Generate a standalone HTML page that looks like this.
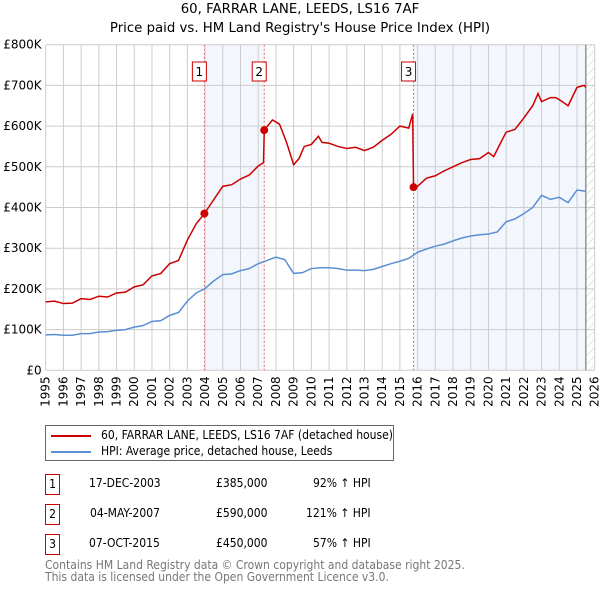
<!DOCTYPE html>
<html><head><meta charset="utf-8"><style>
body{margin:0;background:#fff;font-family:"DejaVu Sans","Liberation Sans",sans-serif;}
#wrap{position:relative;width:600px;height:590px;overflow:hidden;}
.tx{position:absolute;font-size:12px;color:#000;white-space:nowrap;font-family:"DejaVu Sans Condensed","DejaVu Sans",sans-serif;font-stretch:condensed;line-height:13px;}
.box{position:absolute;width:13px;height:19px;border:1px solid #c00;font-size:12px;text-align:center;line-height:19px;font-family:"DejaVu Sans Condensed","DejaVu Sans",sans-serif;}
</style></head><body>
<div id="wrap">
<div style="position:absolute;left:0;width:600px;text-align:center;top:0px;font-size:13.3px;line-height:19px;white-space:nowrap;">60, FARRAR LANE, LEEDS, LS16 7AF<br>Price paid vs. HM Land Registry's House Price Index (HPI)</div>
<svg id="svg" width="600" height="425" style="position:absolute;left:0;top:0"></svg>
<div style="position:absolute;left:45px;top:425px;width:349px;height:36px;border:1px solid #666;box-sizing:border-box;">
<div style="position:absolute;left:5px;top:3px;width:330px;height:14px;"><div style="position:absolute;left:0;top:6px;width:40px;height:2px;background:#c00"></div><span class="tx" style="left:50px;top:0px;">60, FARRAR LANE, LEEDS, LS16 7AF (detached house)</span></div>
<div style="position:absolute;left:5px;top:19px;width:330px;height:14px;"><div style="position:absolute;left:0;top:6px;width:40px;height:2px;background:#5b8fd4"></div><span class="tx" style="left:50px;top:0px;">HPI: Average price, detached house, Leeds</span></div>
</div>
<div><div class="box" style="left:45px;top:474px;">1</div><span class="tx" style="left:89px;top:477px;">17-DEC-2003</span><span class="tx" style="left:216px;top:477px;">£385,000</span><span class="tx" style="left:313px;top:477px;">92% ↑ HPI</span></div>
<div><div class="box" style="left:45px;top:504px;">2</div><span class="tx" style="left:90px;top:507px;">04-MAY-2007</span><span class="tx" style="left:216px;top:507px;">£590,000</span><span class="tx" style="left:306px;top:507px;">121% ↑ HPI</span></div>
<div><div class="box" style="left:45px;top:534px;">3</div><span class="tx" style="left:89px;top:537px;">07-OCT-2015</span><span class="tx" style="left:216px;top:537px;">£450,000</span><span class="tx" style="left:313px;top:537px;">57% ↑ HPI</span></div>
<div class="tx" style="left:45px;top:560px;color:#777;line-height:11.5px;">Contains HM Land Registry data © Crown copyright and database right 2025.<br>This data is licensed under the Open Government Licence v3.0.</div>
</div>
<script>
const yTicks=[0,100,200,300,400,500,600,700,800];
const yLabels=["£0","£100K","£200K","£300K","£400K","£500K","£600K","£700K","£800K"];
const xYears=[1995,1996,1997,1998,1999,2000,2001,2002,2003,2004,2005,2006,2007,2008,2009,2010,2011,2012,2013,2014,2015,2016,2017,2018,2019,2020,2021,2022,2023,2024,2025,2026];
const saleDates=[2003.96,2007.34,2015.77];
const salePrices=[385,590,450];
const hpiT=[1995,1995.5,1996,1996.5,1997,1997.5,1998,1998.5,1999,1999.5,2000,2000.5,2001,2001.5,2002,2002.5,2003,2003.5,2004,2004.5,2005,2005.5,2006,2006.5,2007,2007.5,2008,2008.5,2009,2009.5,2010,2010.5,2011,2011.5,2012,2012.5,2013,2013.5,2014,2014.5,2015,2015.5,2016,2016.5,2017,2017.5,2018,2018.5,2019,2019.5,2020,2020.5,2021,2021.5,2022,2022.5,2023,2023.5,2024,2024.5,2025,2025.5];
const hpiV=[87,88,86,86,90,90,94,95,98,100,106,110,120,122,135,142,170,190,201,220,235,237,245,250,262,270,278,272,238,240,250,252,252,250,246,246,245,248,255,262,268,275,290,298,305,310,318,325,330,333,335,340,365,372,385,400,430,420,425,412,443,440];
const redT=[1995,1995.5,1996,1996.5,1997,1997.5,1998,1998.5,1999,1999.5,2000,2000.5,2001,2001.5,2002,2002.5,2003,2003.5,2003.96,2004.5,2005,2005.5,2006,2006.5,2007,2007.3,2007.34,2007.8,2008.2,2008.6,2009,2009.3,2009.6,2010,2010.4,2010.6,2011,2011.5,2012,2012.5,2013,2013.5,2014,2014.5,2015,2015.5,2015.72,2015.77,2016,2016.5,2017,2017.5,2018,2018.5,2019,2019.5,2020,2020.3,2020.7,2021,2021.5,2022,2022.5,2022.8,2023,2023.5,2023.8,2024,2024.5,2025,2025.4,2025.5];
const redV=[168,170,164,165,176,174,182,180,190,192,205,210,232,238,262,270,320,360,385,420,452,456,470,480,502,510,590,615,605,560,505,520,550,555,575,560,558,550,545,548,540,548,565,580,600,595,630,450,452,472,478,490,500,510,518,520,535,525,560,585,592,620,650,680,660,670,670,665,650,695,700,695];
const X0=45.7,X1=594.7,Y0=370.3,Y1=44.7;
const xs=t=>X0+(t-1995)/(2026-1995)*(X1-X0);
const ys=v=>Y0-v/800*(Y0-Y1);
const svg=document.getElementById('svg');const NS='http://www.w3.org/2000/svg';
function mk(tag,at){const e=document.createElementNS(NS,tag);for(const k in at)e.setAttribute(k,at[k]);svg.appendChild(e);return e;}
let defs=mk('defs',{});defs.innerHTML='<pattern id="hatch" width="6" height="6" patternUnits="userSpaceOnUse" patternTransform="rotate(45)"><line x1="0" y1="0" x2="0" y2="6" stroke="#ccc" stroke-width="1"/></pattern>';
const endT=2025.5;
let s1=mk('rect',{x:xs(saleDates[0]),y:Y1,width:xs(saleDates[1])-xs(saleDates[0]),height:Y0-Y1,fill:'#eef3fc',opacity:0.7});


let s2=mk('rect',{x:xs(saleDates[2]),y:Y1,width:xs(endT)-xs(saleDates[2]),height:Y0-Y1,fill:'#eef3fc',opacity:0.7});


let h=mk('rect',{x:xs(endT),y:Y1,width:X1-xs(endT),height:Y0-Y1,fill:'url(#hatch)'});


xYears.forEach(y=>{let l=mk('line',{x1:xs(y),x2:xs(y),y1:Y1,y2:Y0,stroke:'#ccc','stroke-width':1});


let t=mk('text',{x:0,y:0,transform:`translate(${xs(y)+4},${Y0+6}) rotate(-90)`,'text-anchor':'end','font-size':12,'font-family':'DejaVu Sans, sans-serif'});t.textContent=y;

});
yTicks.forEach((v,i)=>{let l=mk('line',{x1:X0,x2:X1,y1:ys(v),y2:ys(v),stroke:'#ccc','stroke-width':1});


let t=mk('text',{x:X0-4,y:ys(v)+4,'text-anchor':'end','font-size':12,'font-family':'DejaVu Sans, sans-serif'});t.textContent=yLabels[i];

});
let ev=mk('line',{x1:xs(endT),x2:xs(endT),y1:Y1,y2:Y0,stroke:'#666','stroke-width':1});


saleDates.forEach((d,i)=>{let l=mk('line',{x1:xs(d),x2:xs(d),y1:Y1,y2:Y0,stroke:'#e66','stroke-width':1,'stroke-dasharray':'2,2'});


let r=mk('rect',{x:xs(d)-12,y:62,width:14,height:19,fill:'#fff',stroke:'#c00','stroke-width':1});


let t=mk('text',{x:xs(d)-5,y:76,'text-anchor':'middle','font-size':12,'font-family':'DejaVu Sans, sans-serif'});t.textContent=i+1;

});
let hp=mk('polyline',{points:hpiT.map((t,i)=>xs(t)+','+ys(hpiV[i])).join(' '),fill:'none',stroke:'#5b8fd4','stroke-width':1.5});


let rp=mk('polyline',{points:redT.map((t,i)=>xs(t)+','+ys(redV[i])).join(' '),fill:'none',stroke:'#cc0000','stroke-width':1.5});


saleDates.forEach((d,i)=>{let c=mk('circle',{cx:xs(d),cy:ys(salePrices[i]),r:4,fill:'#cc0000'});

});
</script>
</body></html>
